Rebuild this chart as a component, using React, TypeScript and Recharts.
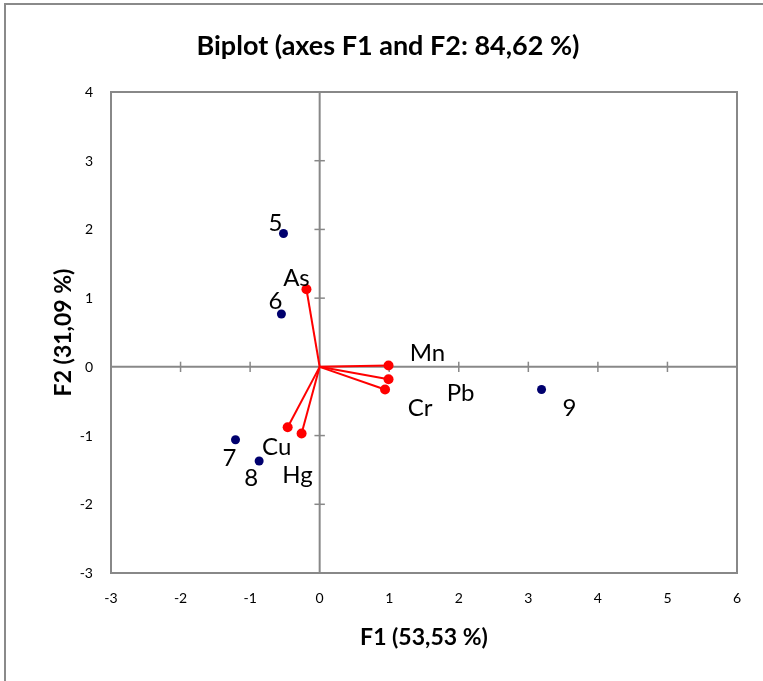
import React from 'react';
import {
  ScatterChart,
  Scatter,
  XAxis,
  YAxis,
  ReferenceLine,
  ReferenceArea,
} from 'recharts';

// observations (scores)
const obsNames = ['5', '6', '7', '8', '9'];
const obsF1 = [-0.52, -0.55, -1.21, -0.87, 3.19];
const obsF2 = [1.94, 0.77, -1.06, -1.37, -0.33];

// variables (loadings)
const varNames = ['As', 'Mn', 'Pb', 'Cr', 'Cu', 'Hg'];
const varF1 = [-0.19, 0.99, 0.99, 0.94, -0.46, -0.26];
const varF2 = [1.13, 0.02, -0.18, -0.33, -0.88, -0.97];

const xTicks = [-3, -2, -1, 0, 1, 2, 3, 4, 5, 6];
const yTicks = [-3, -2, -1, 0, 1, 2, 3, 4];

// label placement in px relative to each marker
const labelOffset: Record<string, [number, number]> = {
  '5': [-8, -12],
  '6': [-6, -14],
  '7': [-6, 17],
  '8': [-8, 16],
  '9': [28, 17],
  As: [-10, -13],
  Mn: [39, -14],
  Pb: [72, 12],
  Cr: [35, 17],
  Cu: [-11, 18],
  Hg: [-4, 40],
};

const FONT = 'Lato, "Open Sans", sans-serif';
const AXIS = '#888888';

const obsData = obsNames.map((name, i) => ({ name, x: obsF1[i], y: obsF2[i] }));

const ObsShape = (props: any) => {
  const { cx, cy, payload } = props;
  const off = labelOffset[payload.name] || [0, 0];
  return (
    <g>
      <circle cx={cx} cy={cy} r={4.5} fill="#00006e" />
      <text x={cx + off[0]} y={cy + off[1]} textAnchor="middle" dominantBaseline="central" fontSize={24} fontFamily={FONT} fill="#000">
        {payload.name}
      </text>
    </g>
  );
};

const VarShape = (props: any) => {
  const { cx, cy, payload } = props;
  if (!payload.name) return <g />;
  const off = labelOffset[payload.name] || [0, 0];
  return (
    <g>
      <circle cx={cx} cy={cy} r={5} fill="#ff0000" />
      <text x={cx + off[0]} y={cy + off[1]} textAnchor="middle" dominantBaseline="central" fontSize={24} fontFamily={FONT} fill="#000">
        {payload.name}
      </text>
    </g>
  );
};

const YTitle = (props: any) => {
  const { viewBox } = props;
  const x = viewBox.x + 11;
  const y = viewBox.y + viewBox.height / 2;
  return (
    <text x={x} y={y} transform={`rotate(-90 ${x} ${y})`} textAnchor="middle" dominantBaseline="central" fontSize={23} fontWeight="bold" fontFamily={FONT} fill="#000">
      F2 (31,09 %)
    </text>
  );
};

export default function App() {
  return (
    <div style={{ position: 'relative', margin: -8, width: 763, height: 681 }}>
      {/* chart-area frame: only its left and top edges fall inside the window */}
      <div
        style={{
          position: 'fixed',
          left: 4,
          top: 3,
          width: 800,
          height: 720,
          borderLeft: '2px solid #8a8a8a',
          borderTop: '2px solid #8a8a8a',
          pointerEvents: 'none',
        }}
      />
      <ScatterChart width={763} height={681} margin={{ left: 51, top: 92, right: 26, bottom: 28 }}>
        <text x={388} y={44} textAnchor="middle" dominantBaseline="central" fontSize={27} fontWeight="bold" fontFamily={FONT} fill="#000">
          Biplot (axes F1 and F2: 84,62 %)
        </text>
        <XAxis
          type="number"
          dataKey="x"
          domain={[-3, 6]}
          ticks={xTicks}
          allowDataOverflow
          axisLine={false}
          tickLine={false}
          tickSize={0}
          tickMargin={20}
          height={80}
          tick={{ fontSize: 14, fontFamily: FONT, fill: '#000' }}
          label={{ value: 'F1 (53,53 %)', position: 'insideBottom', offset: 8, fontSize: 23, fontWeight: 'bold', fontFamily: FONT, fill: '#000' }}
        />
        <YAxis
          type="number"
          dataKey="y"
          domain={[-3, 4]}
          ticks={yTicks}
          allowDataOverflow
          axisLine={false}
          tickLine={false}
          tickSize={0}
          tickMargin={18}
          width={60}
          tick={{ fontSize: 14, fontFamily: FONT, fill: '#000' }}
          label={<YTitle />}
        />
        <ReferenceArea x1={-3} x2={6} y1={-3} y2={4} fill="none" stroke={AXIS} strokeWidth={2} ifOverflow="visible" />
        <ReferenceLine x={0} stroke={AXIS} strokeWidth={2} />
        <ReferenceLine y={0} stroke={AXIS} strokeWidth={2} />
        {xTicks.filter((t) => t !== 0).map((t) => (
          <ReferenceLine
            key={`xt${t}`}
            segment={[{ x: t, y: -0.075 }, { x: t, y: 0.075 }]}
            stroke={AXIS}
            strokeWidth={1.5}
            ifOverflow="visible"
          />
        ))}
        {yTicks.filter((t) => t !== 0).map((t) => (
          <ReferenceLine
            key={`yt${t}`}
            segment={[{ x: -0.075, y: t }, { x: 0.075, y: t }]}
            stroke={AXIS}
            strokeWidth={1.5}
            ifOverflow="visible"
          />
        ))}
        {varNames.map((name, i) => (
          <Scatter
            key={name}
            data={[
              { name: '', x: 0, y: 0 },
              { name, x: varF1[i], y: varF2[i] },
            ]}
            line={{ stroke: '#ff0000', strokeWidth: 2 }}
            shape={VarShape}
            isAnimationActive={false}
          />
        ))}
        <Scatter data={obsData} shape={ObsShape} isAnimationActive={false} />
      </ScatterChart>
    </div>
  );
}
